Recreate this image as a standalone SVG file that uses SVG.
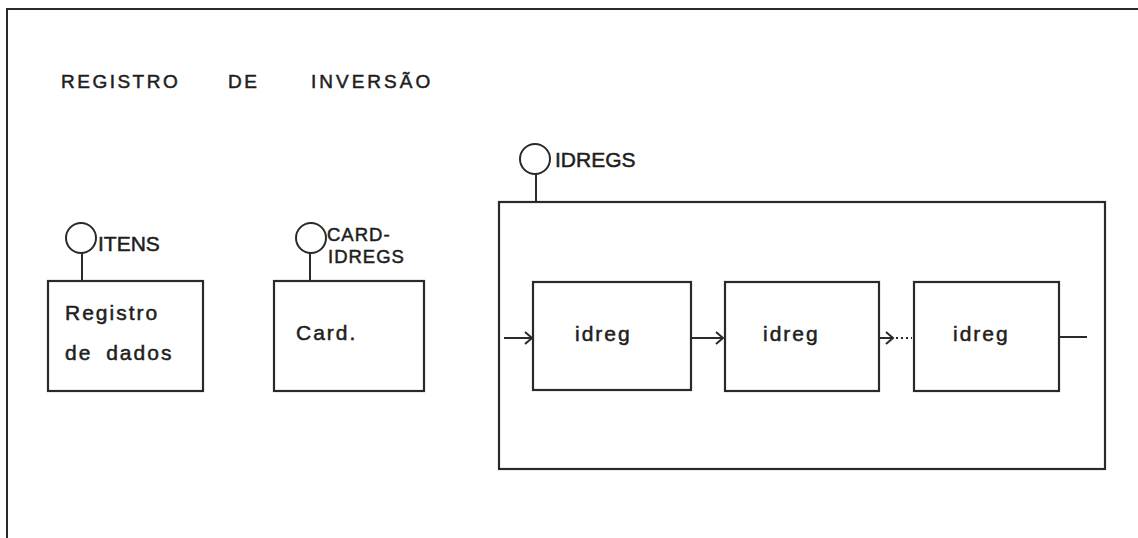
<svg xmlns="http://www.w3.org/2000/svg" width="1138" height="538" viewBox="0 0 1138 538">
<style>
  .ln { fill: none; stroke: #2a2a2a; stroke-width: 2; }
  .box { fill: none; stroke: #2a2a2a; stroke-width: 2.2; }
  .t { font-family: "Liberation Sans", Arial, sans-serif; fill: #1e1e1e; stroke: #1e1e1e; stroke-width: 0.5; }
  .lab { font-size: 21px; }
  .lab2 { font-size: 18.5px; }
  .body { font-size: 21px; letter-spacing: 2px; }
  .title { font-size: 19px; letter-spacing: 2.5px; }
</style>
<defs>
  <marker id="chev" markerWidth="12" markerHeight="14" refX="10" refY="7" orient="auto" markerUnits="userSpaceOnUse">
    <path d="M3,1 L10,7 L3,13" fill="none" stroke="#2a2a2a" stroke-width="2"/>
  </marker>
</defs>
<rect width="1138" height="538" fill="#ffffff"/>
<g id="frame">
  <path class="ln" d="M7,538 L7,9 L1138,9"/>
</g>
<g id="title">
  <text class="t title" x="61" y="88">REGISTRO</text>
  <text class="t title" x="228" y="88">DE</text>
  <text class="t title" x="311" y="88" style="letter-spacing:3px">INVERSÃO</text>
</g>
<g id="node-itens">
  <circle class="ln" cx="81" cy="238" r="15"/>
  <line class="ln" x1="82" y1="253" x2="82" y2="281"/>
  <text class="t lab" x="98" y="251">ITENS</text>
  <rect class="box" x="48" y="281" width="155" height="110"/>
  <text class="t body" x="65" y="320">Registro</text>
  <text class="t body" x="65" y="360" style="word-spacing:6px">de dados</text>
</g>
<g id="node-card-idregs">
  <circle class="ln" cx="311" cy="238" r="15"/>
  <line class="ln" x1="310" y1="253" x2="310" y2="281"/>
  <text class="t lab2" x="327" y="241" style="letter-spacing:1px">CARD-</text>
  <text class="t lab2" x="328" y="263" style="letter-spacing:1px">IDREGS</text>
  <rect class="box" x="274" y="281" width="150" height="110"/>
  <text class="t body" x="296" y="340">Card.</text>
</g>
<g id="node-idregs">
  <circle class="ln" cx="535" cy="159" r="15"/>
  <line class="ln" x1="536" y1="174" x2="536" y2="202"/>
  <text class="t lab" x="555" y="167">IDREGS</text>
  <rect class="box" x="499" y="202" width="606" height="267"/>
</g>
<g id="node-idreg-1">
  <rect class="box" x="533" y="282" width="158" height="108"/>
  <text class="t body" x="575" y="341">idreg</text>
</g>
<g id="node-idreg-2">
  <rect class="box" x="725" y="282" width="154" height="109"/>
  <text class="t body" x="763" y="341">idreg</text>
</g>
<g id="node-idreg-3">
  <rect class="box" x="914" y="282" width="145" height="109"/>
  <text class="t body" x="953" y="341">idreg</text>
</g>
<g id="connectors">
  <line class="ln" x1="504" y1="338" x2="532" y2="338" marker-end="url(#chev)"/>
  <line class="ln" x1="691" y1="338" x2="723" y2="338" marker-end="url(#chev)"/>
  <line class="ln" x1="879" y1="338" x2="893" y2="338" marker-end="url(#chev)"/>
  <line class="ln" x1="896" y1="338" x2="912" y2="338" stroke-dasharray="2 3"/>
  <line class="ln" x1="1059" y1="337" x2="1087" y2="337"/>
</g>
</svg>
